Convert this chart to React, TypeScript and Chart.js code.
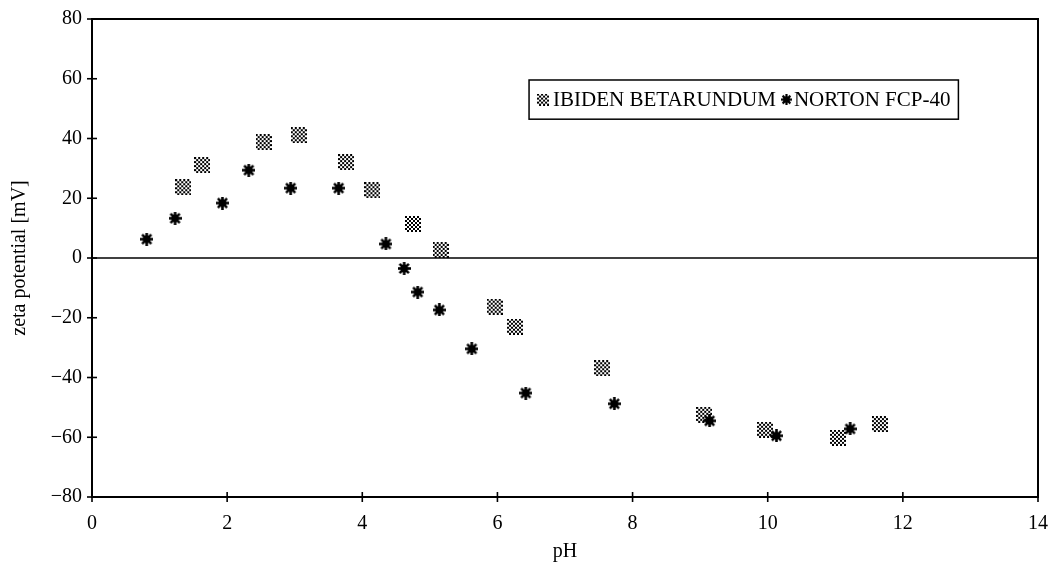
import React, { useEffect, useRef } from "react";
import { Chart, registerables } from "chart.js";

Chart.register(...registerables);

const ibidenPH = [1.35, 1.63, 2.54, 3.06, 3.76, 4.15, 4.75, 5.16, 5.96, 6.26, 7.55, 9.06, 9.96, 11.04, 11.66];
const ibidenZeta = [23.7, 31.1, 38.8, 41.1, 32.1, 22.7, 11.4, 2.7, -16.3, -23.0, -36.9, -52.5, -57.5, -60.2, -55.6];

const nortonPH = [0.81, 1.23, 1.93, 2.32, 2.94, 3.65, 4.35, 4.62, 4.82, 5.14, 5.62, 6.42, 7.73, 9.14, 10.13, 11.22];
const nortonZeta = [6.3, 13.3, 18.4, 29.4, 23.4, 23.4, 4.7, -3.5, -11.4, -17.4, -30.4, -45.2, -48.8, -54.5, -59.5, -57.2];

const seriesNames = ["IBIDEN BETARUNDUM", "NORTON FCP-40"];
const xTitle = "pH";
const yTitle = "zeta potential [mV]";

const FONT = "'Liberation Serif', 'Times New Roman', serif";

function makeChecker(size: number, cell: number): HTMLCanvasElement {
  const c = document.createElement("canvas");
  c.width = size;
  c.height = size;
  const g = c.getContext("2d")!;
  g.fillStyle = "#ffffff";
  g.fillRect(0, 0, size, size);
  g.fillStyle = "#000000";
  for (let i = 0; i * cell < size; i++) {
    for (let j = 0; j * cell < size; j++) {
      if ((i + j) % 2 === 0) g.fillRect(i * cell, j * cell, cell, cell);
    }
  }
  return c;
}

function makeStar(size: number): HTMLCanvasElement {
  const c = document.createElement("canvas");
  c.width = size;
  c.height = size;
  const g = c.getContext("2d")!;
  const m = size / 2;
  g.fillStyle = "#000";
  g.strokeStyle = "#000";
  g.beginPath();
  g.arc(m, m, size * 0.3, 0, Math.PI * 2);
  g.fill();
  g.lineWidth = Math.max(2, size * 0.2);
  g.lineCap = "butt";
  const r = size / 2;
  for (let k = 0; k < 4; k++) {
    const a = (k * Math.PI) / 4;
    g.beginPath();
    g.moveTo(m - Math.cos(a) * r, m - Math.sin(a) * r);
    g.lineTo(m + Math.cos(a) * r, m + Math.sin(a) * r);
    g.stroke();
  }
  return c;
}

export default function App() {
  const ref = useRef<HTMLCanvasElement | null>(null);

  useEffect(() => {
    document.body.style.margin = "0";
    const canvas = ref.current;
    if (!canvas) return;

    const squareMark = makeChecker(16, 2);
    const starMark = makeStar(13);
    const squareLegend = makeChecker(12, 2);
    const starLegend = makeStar(11);

    const framePlugin = {
      id: "frame",
      afterDraw(chart: any) {
        const { ctx, chartArea } = chart;
        const { left, right, top, bottom } = chartArea;
        const xs = chart.scales.x;
        const ys = chart.scales.y;
        ctx.save();
        ctx.strokeStyle = "#000";
        ctx.lineWidth = 2;
        ctx.strokeRect(left, top, right - left, bottom - top);
        ctx.lineWidth = 1.6;
        const y0 = ys.getPixelForValue(0);
        ctx.beginPath();
        ctx.moveTo(left, y0);
        ctx.lineTo(right, y0);
        ctx.stroke();
        ctx.lineWidth = 1.6;
        xs.ticks.forEach((t: any) => {
          const px = xs.getPixelForValue(t.value);
          ctx.beginPath();
          ctx.moveTo(px, bottom - 5);
          ctx.lineTo(px, bottom + 5);
          ctx.stroke();
        });
        ys.ticks.forEach((t: any) => {
          const py = ys.getPixelForValue(t.value);
          ctx.beginPath();
          ctx.moveTo(left - 5, py);
          ctx.lineTo(left + 5, py);
          ctx.stroke();
        });

        const w = right - left;
        const h = bottom - top;
        const bx = left + w * 0.462;
        const by = top + h * 0.1276;
        const bh = h * 0.082;
        ctx.font = `21px ${FONT}`;
        ctx.textBaseline = "middle";
        ctx.fillStyle = "#000";
        const cy = by + bh / 2;
        let x = bx + 8;
        ctx.drawImage(squareLegend, x, cy - 6);
        x += 12 + 4;
        ctx.fillText(seriesNames[0], x, cy + 1);
        x += ctx.measureText(seriesNames[0]).width + 5;
        ctx.drawImage(starLegend, x, cy - 5.5);
        x += 11 + 2;
        ctx.fillText(seriesNames[1], x, cy + 1);
        x += ctx.measureText(seriesNames[1]).width + 8;
        ctx.lineWidth = 1.5;
        ctx.strokeRect(bx, by, x - bx, bh);
        ctx.restore();
      },
    };

    const chart = new Chart(canvas, {
      type: "scatter",
      data: {
        datasets: [
          {
            label: seriesNames[0],
            data: ibidenPH.map((p, i) => ({ x: p, y: ibidenZeta[i] })),
            pointStyle: squareMark as any,
            pointRadius: 8,
            order: 2,
          },
          {
            label: seriesNames[1],
            data: nortonPH.map((p, i) => ({ x: p, y: nortonZeta[i] })),
            pointStyle: starMark as any,
            pointRadius: 6,
            order: 1,
          },
        ],
      },
      options: {
        animation: false,
        responsive: true,
        maintainAspectRatio: false,
        layout: { padding: { left: 0, top: 19, right: 11, bottom: 0 } },
        plugins: {
          legend: { display: false },
          tooltip: { enabled: false },
        },
        scales: {
          x: {
            type: "linear",
            min: 0,
            max: 14,
            grid: { display: false },
            border: { display: false },
            ticks: {
              stepSize: 2,
              color: "#000",
              font: { family: FONT, size: 20 },
              padding: 7,
              maxRotation: 0,
            },
            title: {
              display: true,
              text: xTitle,
              color: "#000",
              font: { family: FONT, size: 20 },
              padding: { top: 0, bottom: 16 },
            },
            afterFit(scale: any) {
              scale.height = 83;
              scale.paddingLeft = 0;
              scale.paddingRight = 0;
            },
          },
          y: {
            type: "linear",
            min: -80,
            max: 80,
            grid: { display: false },
            border: { display: false },
            ticks: {
              stepSize: 20,
              color: "#000",
              font: { family: FONT, size: 20 },
              padding: 2,
              callback: (v: any) => String(v).replace("-", "\u2212"),
            },
            title: {
              display: true,
              text: yTitle,
              color: "#000",
              font: { family: FONT, size: 20 },
              padding: { top: 8, bottom: 0 },
            },
            afterFit(scale: any) {
              scale.width = 92;
              scale.paddingTop = 0;
              scale.paddingBottom = 0;
            },
          },
        },
      },
      plugins: [framePlugin],
    });

    return () => chart.destroy();
  }, []);

  return (
    <div style={{ width: 1049, height: 580, position: "relative" }}>
      <canvas ref={ref} />
    </div>
  );
}
